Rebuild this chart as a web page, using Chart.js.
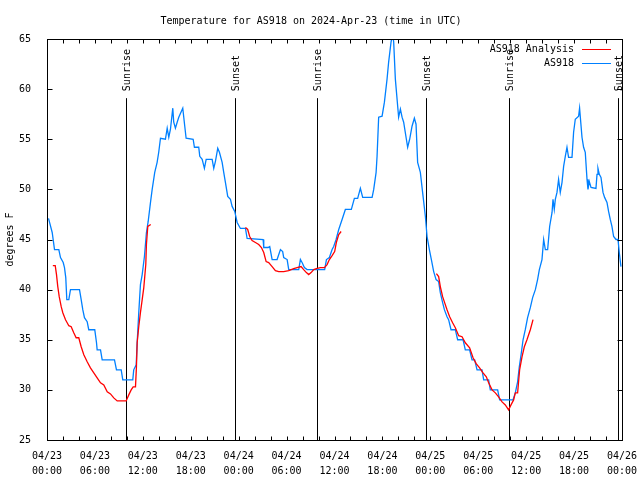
<!DOCTYPE html>
<html>
<head>
<meta charset="utf-8">
<script src="https://cdn.jsdelivr.net/npm/chart.js@4.4.1/dist/chart.umd.min.js"></script>
<style>
html,body{margin:0;padding:0;background:#fff;}
#wrap{width:640px;height:480px;}
</style>
</head>
<body>
<div id="wrap"><canvas id="tempChart" width="640" height="480"></canvas></div>
<script>
// hours since 04/23 00:00 UTC
const obsHours=[0.19,0.65,0.94,1.48,1.69,2.03,2.19,2.35,2.48,2.73,2.94,4.07,4.28,4.48,4.69,5.03,5.23,5.98,6.20,6.28,6.70,6.91,8.45,8.70,9.29,9.49,10.74,10.86,11.17,11.29,11.49,11.70,11.92,12.20,12.45,12.67,12.96,13.17,13.49,13.79,13.99,14.21,14.83,15.05,15.25,15.46,15.75,15.87,16.08,16.30,16.50,17.00,17.25,17.42,18.30,18.46,19.00,19.13,19.43,19.71,19.93,20.68,20.88,21.09,21.38,21.59,21.93,22.13,22.34,22.63,22.97,23.18,23.51,23.81,24.22,24.85,25.06,27.06,27.14,27.69,27.89,28.19,28.81,29.23,29.51,29.64,30.07,30.27,31.52,31.73,31.94,32.23,32.57,34.77,34.99,35.36,35.70,35.90,36.20,36.53,36.95,37.36,38.11,38.49,38.90,39.24,39.53,40.71,40.91,41.21,41.33,41.53,41.96,42.25,42.58,42.78,43.08,43.28,43.41,43.62,44.03,44.25,44.46,44.66,45.00,45.16,45.41,45.71,46.00,46.21,46.41,46.75,47.09,47.38,47.59,47.88,48.13,48.42,48.72,49.04,49.25,49.54,49.76,50.09,50.29,50.59,51.13,51.42,52.10,52.38,52.92,53.22,53.55,53.85,54.47,54.68,55.30,55.51,56.43,56.68,58.35,58.64,58.93,59.14,59.36,59.61,59.89,60.18,60.52,60.81,61.15,61.43,61.65,61.98,62.19,62.40,62.69,62.94,63.24,63.36,63.52,63.65,63.86,64.06,64.27,64.49,64.69,64.90,65.11,65.31,65.74,65.94,66.15,66.57,66.69,66.99,67.19,67.40,67.62,67.74,67.90,68.12,68.74,68.87,68.99,69.16,69.37,69.62,69.82,70.12,70.32,70.53,70.74,70.95,71.25,71.50,71.66,71.87];
const obsTemps=[47.1,45.7,44,44,43.2,42.7,42.2,41.2,39,39,40,40,39,38,37.2,36.8,36,36,34.7,34,34,33,33,32,32,31,31,32,32.5,34.7,37.7,40.5,41.5,43.3,45.7,46.8,48.7,50,51.7,52.7,53.7,55.1,55,56.1,55.2,56,58.1,56.7,56.1,56.7,57.2,58.1,56.3,55.1,55,54.2,54.2,53.3,53,52.1,53,53,52.1,52.8,54.1,53.7,52.7,51.7,50.7,49.3,49,48.3,47.8,46.7,46.1,46.1,45.1,45,44.2,44.2,44.3,43,43,44,43.8,43.2,43,42,42,43,42.7,42.2,42,42,43,43.2,44,44.3,45,46,47,48,48,49.1,49.1,50.1,49.2,49.2,50,51.7,53.3,57.2,57.3,58.7,61,62.7,64.7,65.5,64.7,61,57.2,58,57.2,56.7,55,54.2,55,56.3,57.1,56.5,52.7,51.7,49.3,47.3,45.3,44,43,41.8,41,40.8,39.7,38.7,38,37.3,37,36,36,35,35,34,34,33,33,32,32,31,31,30,30,29,29,29.7,30.8,32.3,33.5,35,36,37.2,38.2,39.2,40,41,42,43,45,44,44,46.3,47.7,49,48,49,49.7,51,49.7,50.7,52.3,53.3,54.2,53.2,53.2,55.7,57,57.3,58.1,55.2,54.2,53.7,51,50,50.8,50.2,50.1,51.5,52.1,51.5,51.2,49.7,49.2,48.7,47.8,47,46.3,45.3,45,45,43.7,42.3];

const anaHours=[0.73,1.03,1.19,1.35,1.53,1.78,1.98,2.32,2.73,3.03,3.35,3.65,3.98,4.28,4.61,5.03,5.44,5.86,6.28,6.70,7.11,7.54,7.95,8.36,8.79,9.41,9.91,10.24,10.54,10.79,11.08,11.20,11.29,11.49,11.70,11.92,12.12,12.24,12.37,12.45,12.62,12.99,
 18.0,
 24.85,25.13,25.38,25.68,26.10,26.51,26.85,27.14,27.44,27.76,28.19,28.60,29.02,29.64,30.27,30.89,31.32,31.82,32.14,32.48,32.77,33.07,33.40,33.73,34.23,34.74,35.07,35.36,35.70,36.02,36.23,36.53,36.83,
 42.0,
 48.76,49.04,49.25,49.54,49.79,50.09,50.42,50.79,51.13,51.55,51.97,52.38,52.92,53.35,53.76,54.17,54.60,55.01,55.30,55.73,56.14,56.55,56.98,57.39,57.80,58.10,58.43,58.64,58.93,59.18,59.48,59.77,60.10,60.52,60.86];
const anaTemps=[42.4,42.4,41.5,40.3,39.3,38.3,37.7,37,36.4,36.3,35.7,35.2,35.2,34.3,33.5,32.8,32.2,31.7,31.2,30.7,30.5,29.8,29.6,29.2,28.9,28.9,28.9,29.5,30,30.3,30.3,32.3,34.7,36.3,37.7,39,40.2,41.3,42.5,44.5,46.3,46.5,
 null,
 46.2,46,45.3,44.9,44.7,44.5,44.2,43.7,42.8,42.7,42.3,41.9,41.8,41.8,41.9,42.1,42.2,42.3,42,41.7,41.5,41.7,42,42.1,42.2,42.2,42.5,43,43.4,43.8,44.7,45.5,45.8,
 null,
 41.6,41.3,40.3,39.3,38.7,38,37.3,36.7,36.2,35.4,35.3,34.7,34.2,33.2,32.6,32.2,31.7,31.3,30.7,30,29.7,29.3,28.8,28.5,28,28.5,29,29.7,29.7,32,33.3,34.3,35,36,37];

const sunHours=[9.86,23.5,33.77,47.5,57.8,71.5];
const sunLabels=["Sunrise","Sunset","Sunrise","Sunset","Sunrise","Sunset"];

const tickDates=["04/23","04/23","04/23","04/23","04/24","04/24","04/24","04/24","04/25","04/25","04/25","04/25","04/26"];
const tickTimes=["00:00","06:00","12:00","18:00","00:00","06:00","12:00","18:00","00:00","06:00","12:00","18:00","00:00"];

const FONT="'DejaVu Sans Mono', monospace";

function pts(xs,ys){
return xs.map((x,i)=>({x:x,y:ys[i]}));
}

// gnuplot style frame: border, inward ticks, sun lines, legend
const gnuFrame={
id:'gnuFrame',
beforeDatasetsDraw(chart){
const {ctx,chartArea:a,scales:{x,y}}=chart;
ctx.save();
ctx.strokeStyle='#000';
ctx.lineWidth=1;
ctx.fillStyle='#000';
ctx.font='10px '+FONT;
const yTop=y.getPixelForValue(59.1);
sunHours.forEach((h,i)=>{
const px=Math.round(x.getPixelForValue(h))+0.5;
ctx.beginPath();
ctx.moveTo(px,yTop);
ctx.lineTo(px,a.bottom);
ctx.stroke();
ctx.save();
ctx.translate(px+1,yTop-7);
ctx.rotate(-Math.PI/2);
ctx.textAlign='left';
ctx.textBaseline='middle';
ctx.fillText(sunLabels[i],0,0);
ctx.restore();
});
ctx.restore();
},
afterDraw(chart){
const {ctx,chartArea:a,scales:{x,y}}=chart;
ctx.save();
ctx.strokeStyle='#000';
ctx.lineWidth=1;
const L=Math.round(a.left)+0.5,R=Math.round(a.right)+0.5,T=Math.round(a.top)+0.5,B=Math.round(a.bottom)+0.5;
ctx.strokeRect(L,T,R-L,B-T);
ctx.beginPath();
for(let h=0;h<=72;h+=2){
const px=Math.round(x.getPixelForValue(h))+0.5;
ctx.moveTo(px,B);ctx.lineTo(px,B-4);
ctx.moveTo(px,T);ctx.lineTo(px,T+4);
}
for(let v=25;v<=65;v+=5){
const py=Math.round(y.getPixelForValue(v))+0.5;
ctx.moveTo(L,py);ctx.lineTo(L+5,py);
ctx.moveTo(R,py);ctx.lineTo(R-5,py);
}
ctx.stroke();

// legend
ctx.font='10px '+FONT;
ctx.textAlign='right';
ctx.textBaseline='middle';
ctx.fillStyle='#000';
chart.data.datasets.forEach((ds,i)=>{
const ly=49+i*14;
ctx.fillText(ds.label,574,ly);
ctx.strokeStyle=ds.borderColor;
ctx.beginPath();
ctx.moveTo(582,ly+0.5);
ctx.lineTo(611,ly+0.5);
ctx.stroke();
});
ctx.restore();
}
};

new Chart(document.getElementById('tempChart'),{
type:'line',
data:{
datasets:[
{label:'AS918 Analysis',data:pts(anaHours,anaTemps),borderColor:'#ff0000',borderWidth:1.3,pointRadius:0,spanGaps:false,tension:0},
{label:'AS918',data:pts(obsHours,obsTemps),borderColor:'#0080ff',borderWidth:1.3,pointRadius:0,tension:0}
]
},
options:{
responsive:false,
animation:false,
events:[],
layout:{padding:{left:0,right:18,top:0,bottom:0}},
plugins:{
legend:{display:false},
tooltip:{enabled:false},
title:{
display:true,
text:'Temperature for AS918 on 2024-Apr-23 (time in UTC)',
color:'#000',
font:{family:FONT,size:10,weight:'normal',lineHeight:1.2},
padding:{top:15,bottom:12}
}
},
scales:{
x:{
type:'linear',
min:0,max:72,
grid:{display:false},
border:{display:false},
afterFit(s){s.height=40;},
ticks:{
stepSize:6,
autoSkip:false,
maxRotation:0,
padding:1,
color:'#000',
font:{family:FONT,size:10,lineHeight:1.5},
callback:v=>{
const i=Math.round(v/6);
return [tickDates[i],tickTimes[i]];
}
}
},
y:{
min:25,max:65,
grid:{display:false},
border:{display:false},
afterFit(s){s.width=47;},
title:{display:true,text:'degrees F',color:'#000',font:{family:FONT,size:10},padding:{top:4,bottom:0}},
ticks:{stepSize:5,padding:8,color:'#000',font:{family:FONT,size:10}}
}
}
},
plugins:[gnuFrame]
});
</script>
</body>
</html>
